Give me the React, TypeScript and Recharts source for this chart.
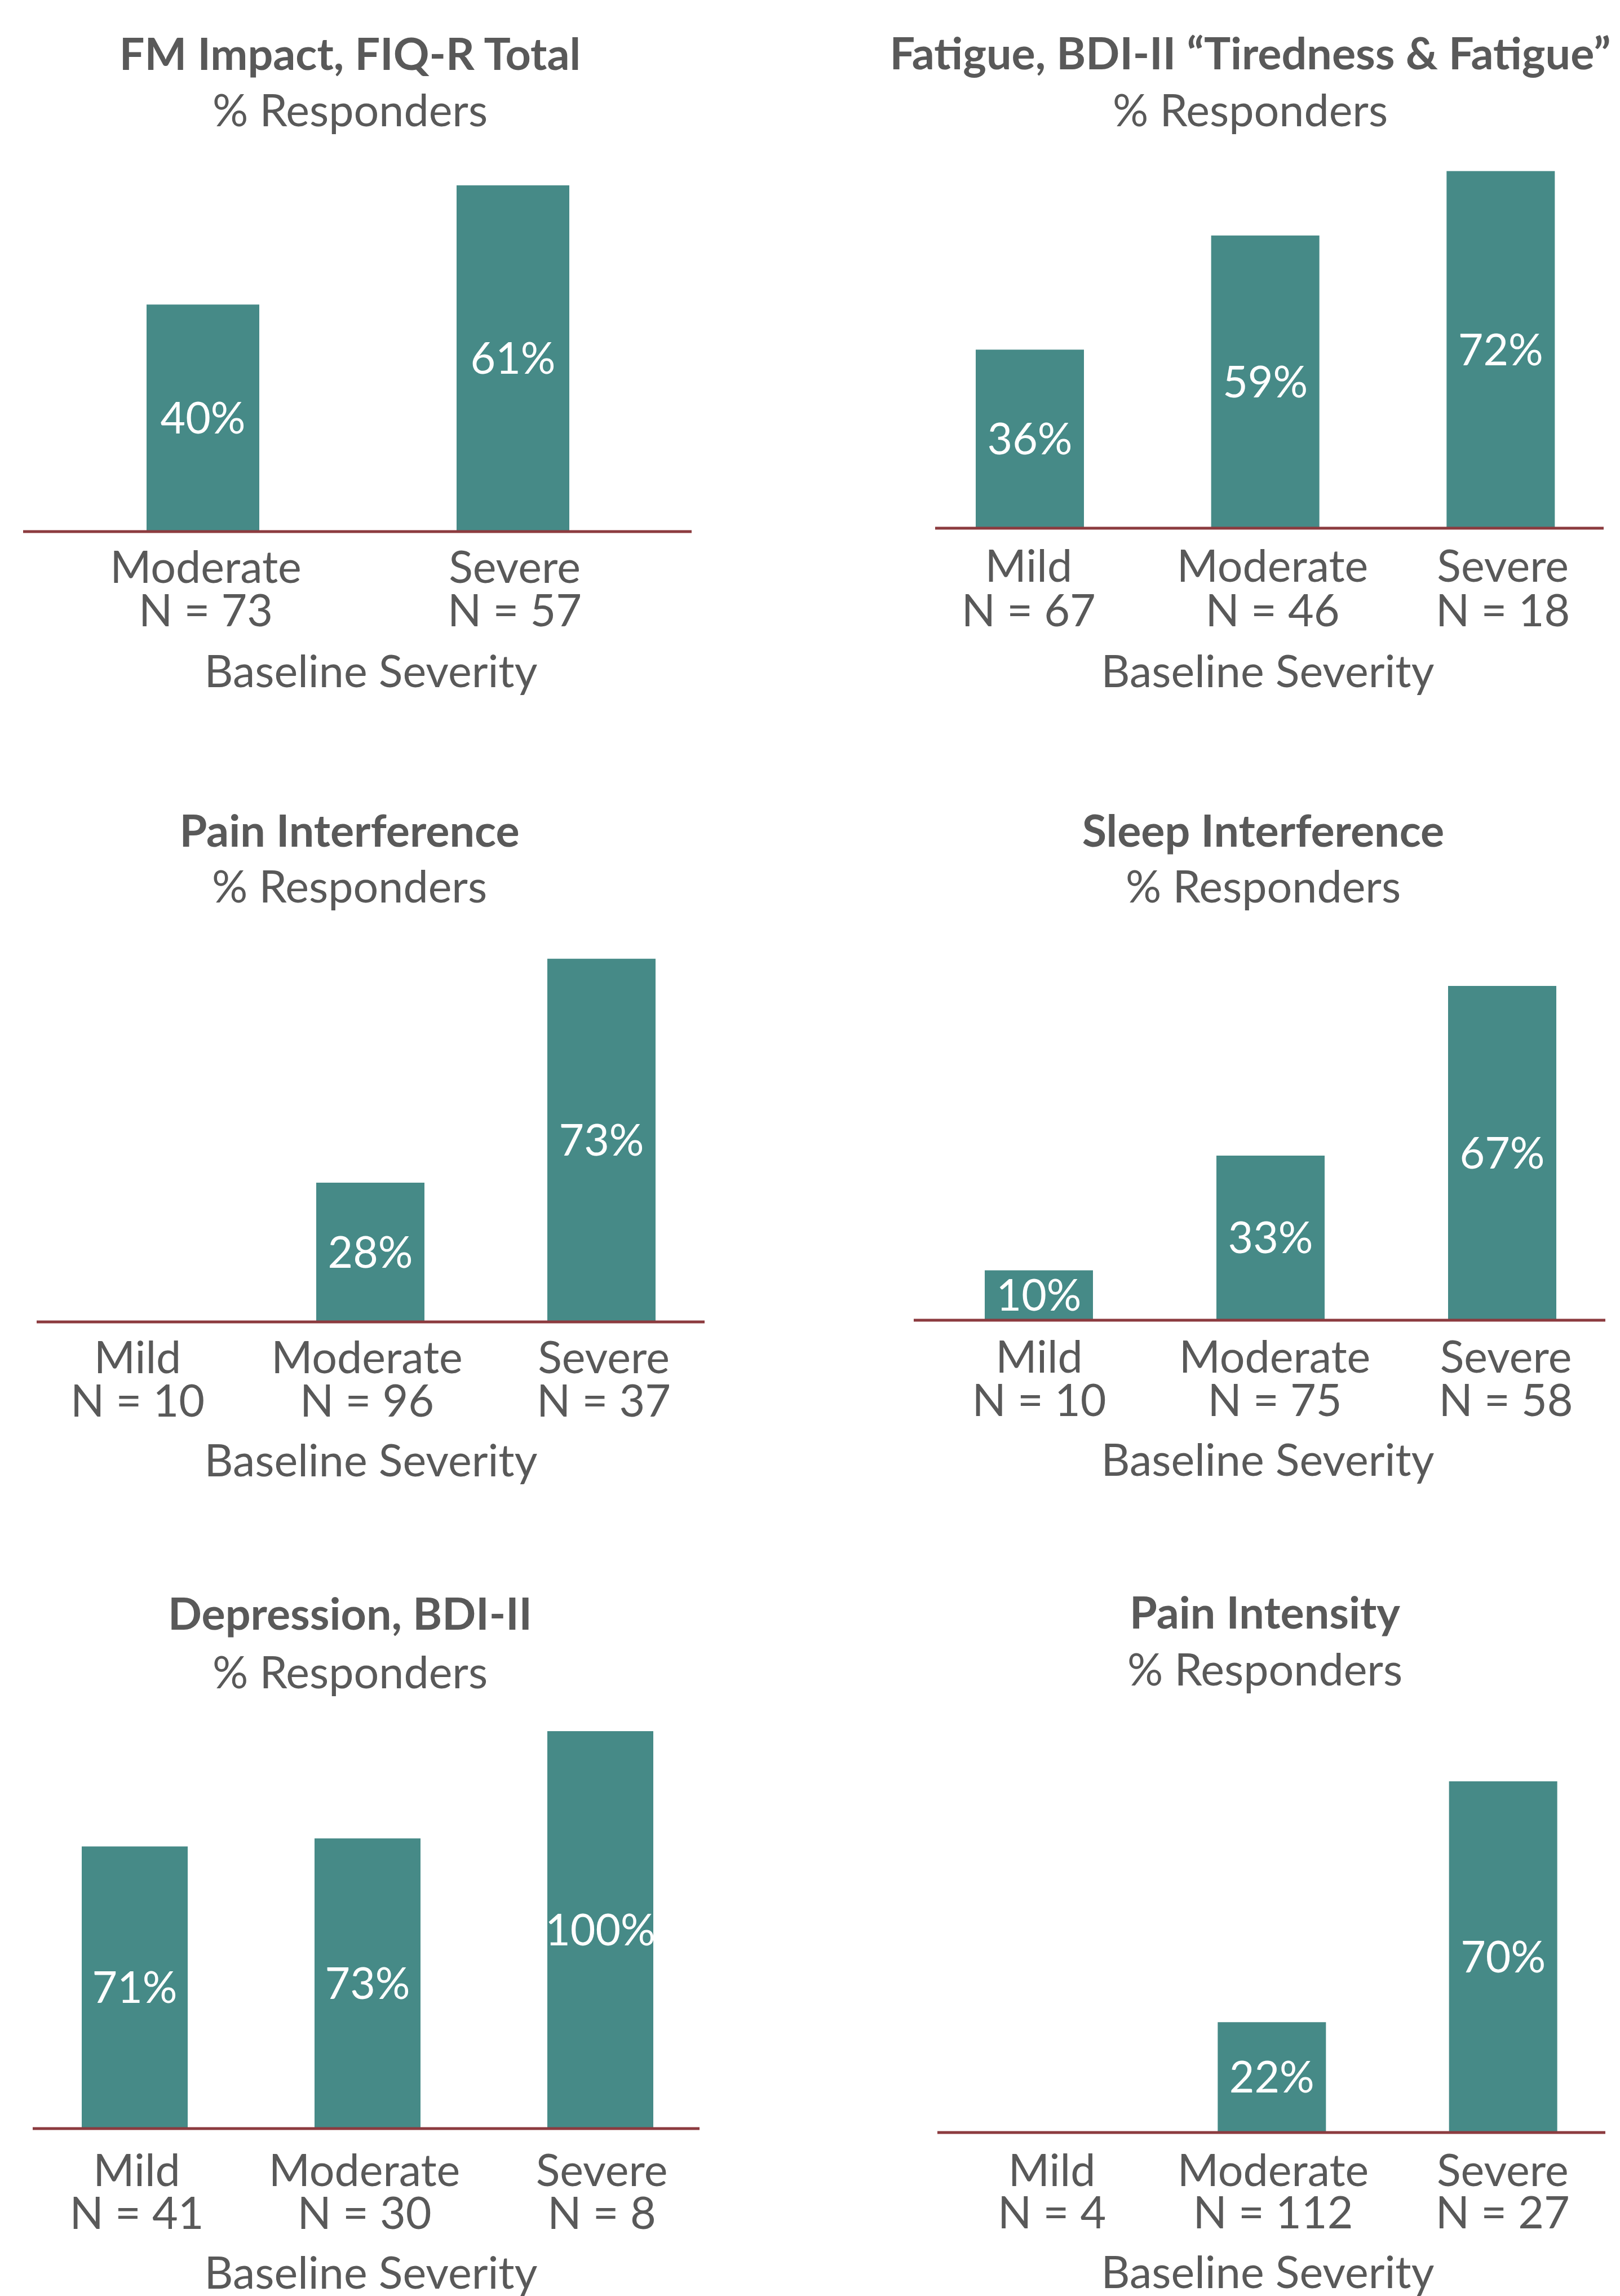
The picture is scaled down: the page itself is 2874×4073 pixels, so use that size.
import { BarChart, Bar, XAxis, YAxis, LabelList } from 'recharts'

// values
const twoLevels = ['Moderate', 'Severe']
const threeLevels = ['Mild', 'Moderate', 'Severe']

const fmImpactN = [73, 57]
const fmImpactPct = [40, 61]

const fatigueN = [67, 46, 18]
const fatiguePct = [36, 59, 72]

const painInterfN = [10, 96, 37]
const painInterfPct = [null, 28, 73]

const sleepInterfN = [10, 75, 58]
const sleepInterfPct = [10, 33, 67]

const depressionN = [41, 30, 8]
const depressionPct = [71, 73, 100]

const painIntensityN = [4, 112, 27]
const painIntensityPct = [null, 22, 70]

const yMax = [70, 80, 80, 80, 100, 80]

const FONT = "Lato, 'Open Sans', sans-serif"
const TEXT = '#595959'
const BAR = '#468A87'
const LINE = '#8C3B3F'
const FS = 79
const LABEL_FS = 77

const makeData = (cats: string[], ns: number[], pcts: (number | null)[]) =>
    cats.map((cat, i) => ({ cat, n: ns[i], pct: pcts[i] }))

const panels = [
    { title: 'FM Impact, FIQ-R Total', data: makeData(twoLevels, fmImpactN, fmImpactPct) },
    { title: 'Fatigue, BDI-II \u201CTiredness & Fatigue\u201D', data: makeData(threeLevels, fatigueN, fatiguePct) },
    { title: 'Pain Interference', data: makeData(threeLevels, painInterfN, painInterfPct) },
    { title: 'Sleep Interference', data: makeData(threeLevels, sleepInterfN, sleepInterfPct) },
    { title: 'Depression, BDI-II', data: makeData(threeLevels, depressionN, depressionPct) },
    { title: 'Pain Intensity', data: makeData(threeLevels, painIntensityN, painIntensityPct) },
]

// page layout of each panel (px)
const layouts = [
    { x0: 41, x1: 1227, axisY: 943, plotH: 705, padL: 44, padR: 42, barSize: 200, titleX: 621, titleY: 124, subY: 224, dyName: 91, dyN: 168, dyAxis: 276, axisTitleX: 658, tickDx: [5, 3] },
    { x0: 1659, x1: 2845, axisY: 937, plotH: 704, padL: -41, padR: -26, barSize: 192, titleX: 2218, titleY: 123, subY: 224, dyName: 95, dyN: 174, dyAxis: 282, axisTitleX: 2249, tickDx: [-2, 13, 4] },
    { x0: 65, x1: 1250, axisY: 2345, plotH: 706, padL: -23, padR: -22, barSize: 192, titleX: 620, titleY: 1502, subY: 1601, dyName: 91, dyN: 168, dyAxis: 274, axisTitleX: 658, tickDx: [-3, -6, 4] },
    { x0: 1621, x1: 2848, axisY: 2342, plotH: 708, padL: 16, padR: -22, barSize: 192, titleX: 2241, titleY: 1502, subY: 1601, dyName: 93, dyN: 170, dyAxis: 276, axisTitleX: 2249, tickDx: [1, 8, 7] },
    { x0: 58, x1: 1241, axisY: 3776, plotH: 705, padL: -26, padR: -30, barSize: 188, titleX: 621, titleY: 2891, subY: 2995, dyName: 102, dyN: 178, dyAxis: 284, axisTitleX: 658, tickDx: [4, -5, 3] },
    { x0: 1663, x1: 2848, axisY: 3783, plotH: 712, padL: -22, padR: -24, barSize: 192, titleX: 2244, titleY: 2889, subY: 2990, dyName: 95, dyN: 170, dyAxis: 276, axisTitleX: 2249, tickDx: [20, 2, -1] },
]

const M = 90
const T = 20
const B = 330

function Panel({ idx }: { idx: number }) {
    const cfg = layouts[idx]
    const { data } = panels[idx]
    const width = cfg.x1 - cfg.x0 + 2 * M
    const height = T + cfg.plotH + B
    const left = cfg.x0 - M
    const top = cfg.axisY - cfg.plotH - T
    const base = T + cfg.plotH

    const renderTick = (props: any) => {
        const i = props.index ?? props.payload?.index ?? 0
        const x = props.x + (cfg.tickDx[i] ?? 0)
        return (
            <g>
                <text x={x} y={base + cfg.dyName} textAnchor="middle" fill={TEXT} fontSize={FS} fontFamily={FONT}>
                    {props.payload.value}
                </text>
                <text x={x} y={base + cfg.dyN} textAnchor="middle" fill={TEXT} fontSize={FS} fontFamily={FONT}>
                    {`N = ${data[i].n}`}
                </text>
            </g>
        )
    }

    return (
        <div style={{ position: 'absolute', left, top }}>
            <BarChart width={width} height={height} data={data} margin={{ top: T, right: M, bottom: 0, left: M }}>
                <XAxis
                    dataKey="cat"
                    type="category"
                    interval={0}
                    height={B}
                    padding={{ left: cfg.padL, right: cfg.padR }}
                    axisLine={{ stroke: LINE, strokeWidth: 5 }}
                    tickLine={false}
                    tickSize={0}
                    tickMargin={0}
                    tick={renderTick}
                    label={() => (
                        <text x={cfg.axisTitleX - left} y={base + cfg.dyAxis} textAnchor="middle" fill={TEXT} fontSize={FS} fontFamily={FONT}>
                            Baseline Severity
                        </text>
                    )}
                />
                <YAxis hide type="number" domain={[0, yMax[idx]]} allowDataOverflow />
                <Bar dataKey="pct" fill={BAR} barSize={cfg.barSize} isAnimationActive={false}>
                    <LabelList
                        dataKey="pct"
                        position="center"
                        formatter={(v: any) => (v == null ? '' : `${v}%`)}
                        fill="#FFFFFF"
                        style={{ fontSize: LABEL_FS, fontFamily: FONT, fill: '#FFFFFF' }}
                    />
                </Bar>
            </BarChart>
        </div>
    )
}

export default function App() {
    return (
        <div style={{ position: 'absolute', left: 0, top: 0, width: 2874, height: 4073, overflow: 'hidden', background: '#FFFFFF' }}>
            <svg width={2874} height={4073} style={{ position: 'absolute', left: 0, top: 0 }}>
                {layouts.map((cfg, i) => (
                    <g key={i} fill={TEXT} fontFamily={FONT} fontSize={FS} textAnchor="middle">
                        <text x={cfg.titleX} y={cfg.titleY} fontWeight={700}>{panels[i].title}</text>
                        <text x={cfg.titleX} y={cfg.subY}>% Responders</text>
                    </g>
                ))}
            </svg>
            {panels.map((_, i) => (
                <Panel key={i} idx={i} />
            ))}
        </div>
    )
}
